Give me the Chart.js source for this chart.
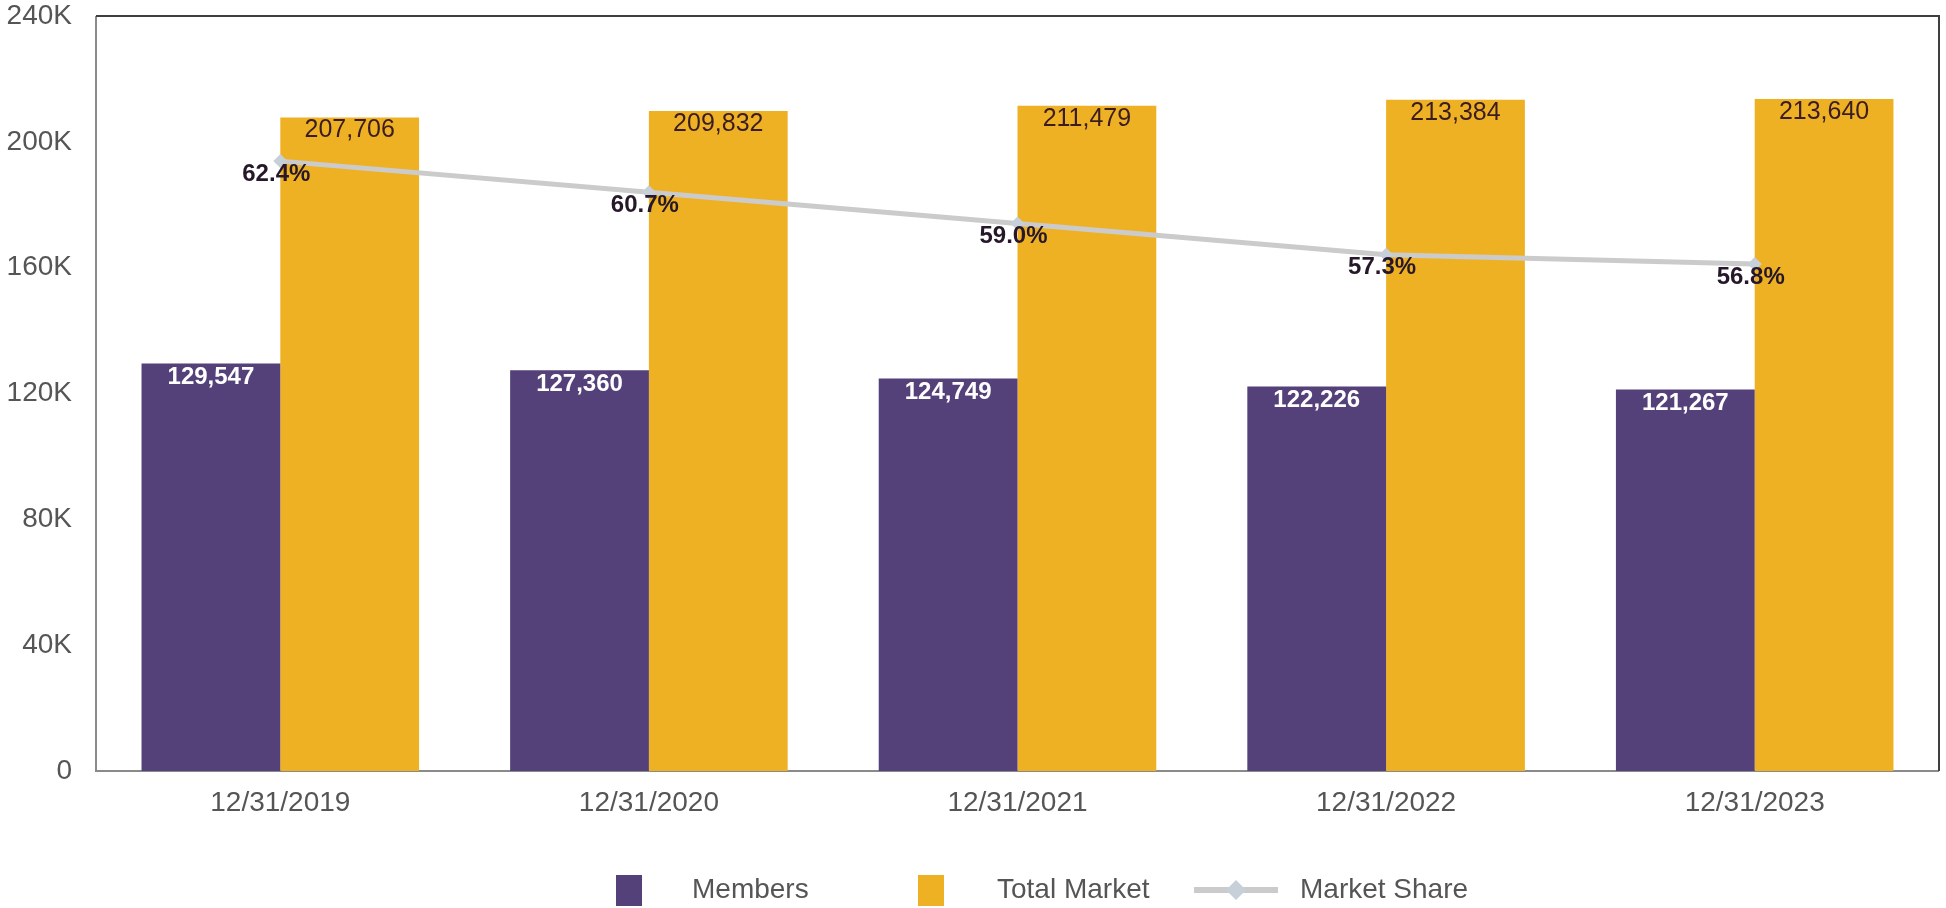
<!DOCTYPE html>
<html>
<head>
<meta charset="utf-8">
<title>Members vs Total Market</title>
<script src="https://cdn.jsdelivr.net/npm/chart.js@4.4.1/dist/chart.umd.min.js"></script>
<style>
  html, body { margin: 0; padding: 0; background: #fff; }
  canvas { display: block; }
</style>
</head>
<body>
<canvas id="marketChart" width="1946" height="908"></canvas>
<script>
const categories = ['12/31/2019', '12/31/2020', '12/31/2021', '12/31/2022', '12/31/2023'];
const members = [129547, 127360, 124749, 122226, 121267];
const totalMarket = [207706, 209832, 211479, 213384, 213640];
const marketShare = [62.4, 60.7, 59.0, 57.3, 56.8];
const yTicks = [0, 40000, 80000, 120000, 160000, 200000, 240000];

const FONT = '"Liberation Sans", Arial, sans-serif';
const PURPLE = '#55417a';
const GOLD = '#efb124';
const GREY_LINE = '#cbcbcb';

const fmt = n => n.toLocaleString('en-US');

// value labels drawn inside the top of each bar and under each line point
const valueLabels = {
  id: 'valueLabels',
  afterDatasetsDraw(chart) {
    const ctx = chart.ctx;
    ctx.save();
    ctx.textAlign = 'center';
    ctx.textBaseline = 'middle';
    chart.data.datasets.forEach((ds, i) => {
      const meta = chart.getDatasetMeta(i);
      const lbl = ds.valueLabel;
      if (!lbl) return;
      ctx.font = lbl.font;
      ctx.fillStyle = lbl.color;
      meta.data.forEach((el, j) => {
        ctx.fillText(lbl.format(ds.data[j]), el.x + (lbl.dx || 0), el.y + lbl.dy);
      });
    });
    ctx.restore();
  }
};

// plot frame
const plotFrame = {
  id: 'plotFrame',
  beforeDatasetsDraw(chart) {
    const { ctx, chartArea: a } = chart;
    ctx.save();
    ctx.lineWidth = 2;
    ctx.strokeStyle = '#8a8a8a';
    ctx.beginPath();
    ctx.moveTo(a.left, a.top);
    ctx.lineTo(a.left, a.bottom);
    ctx.lineTo(a.right, a.bottom);
    ctx.stroke();
    ctx.strokeStyle = '#3f3f3f';
    ctx.beginPath();
    ctx.moveTo(a.left, a.top);
    ctx.lineTo(a.right, a.top);
    ctx.lineTo(a.right, a.bottom);
    ctx.stroke();
    ctx.restore();
  }
};

// legend along the bottom
const bottomLegend = {
  id: 'bottomLegend',
  afterDraw(chart) {
    const ctx = chart.ctx;
    const cx = chart.width / 2;
    const y = 890;
    const items = [
      { ds: 0, kind: 'box', x: cx - 357, textX: cx - 281 },
      { ds: 1, kind: 'box', x: cx - 55, textX: cx + 24 },
      { ds: 2, kind: 'line', x: cx + 221, textX: cx + 327 }
    ];
    ctx.save();
    ctx.textBaseline = 'middle';
    ctx.textAlign = 'left';
    ctx.font = '28px ' + FONT;
    items.forEach(it => {
      const ds = chart.data.datasets[it.ds];
      if (it.kind === 'box') {
        ctx.fillStyle = ds.backgroundColor;
        ctx.fillRect(it.x, y - 15, 26, 31);
      } else {
        ctx.strokeStyle = ds.borderColor;
        ctx.lineWidth = 6;
        ctx.beginPath();
        ctx.moveTo(it.x, y);
        ctx.lineTo(it.x + 84, y);
        ctx.stroke();
        ctx.fillStyle = ds.pointBackgroundColor;
        const m = it.x + 42;
        ctx.beginPath();
        ctx.moveTo(m, y - 10);
        ctx.lineTo(m + 10, y);
        ctx.lineTo(m, y + 10);
        ctx.lineTo(m - 10, y);
        ctx.closePath();
        ctx.fill();
      }
      ctx.fillStyle = '#555555';
      ctx.fillText(ds.label, it.textX, y);
    });
    ctx.restore();
  }
};

new Chart(document.getElementById('marketChart'), {
  type: 'bar',
  data: {
    labels: categories,
    datasets: [
      {
        label: 'Members',
        data: members,
        backgroundColor: PURPLE,
        order: 1,
        yAxisID: 'y',
        valueLabel: { font: 'bold 24px ' + FONT, color: '#ffffff', dy: 14, format: fmt }
      },
      {
        label: 'Total Market',
        data: totalMarket,
        backgroundColor: GOLD,
        order: 2,
        yAxisID: 'y',
        valueLabel: { font: '25px ' + FONT, color: '#3a1c22', dy: 13, format: fmt }
      },
      {
        type: 'line',
        label: 'Market Share',
        data: marketShare,
        borderColor: GREY_LINE,
        borderWidth: 5,
        pointStyle: 'rectRot',
        pointRadius: 7,
        pointBackgroundColor: '#c7d0d8',
        pointBorderWidth: 0,
        tension: 0,
        order: 0,
        yAxisID: 'y1',
        valueLabel: { font: 'bold 24px ' + FONT, color: '#26182a', dx: -4, dy: 13, format: v => v.toFixed(1) + '%' }
      }
    ]
  },
  options: {
    responsive: false,
    animation: false,
    layout: { padding: { top: 16, right: 3, left: 0, bottom: 0 } },
    datasets: {
      bar: { categoryPercentage: 0.753, barPercentage: 1.0, borderWidth: 0 }
    },
    plugins: {
      legend: { display: false },
      tooltip: { enabled: false }
    },
    scales: {
      x: {
        grid: { display: false, drawTicks: false },
        border: { display: false },
        ticks: { color: '#555555', font: { family: FONT, size: 28 }, padding: 15 },
        afterFit: s => { s.height = 137; s.paddingLeft = 0; s.paddingRight = 0; }
      },
      y: {
        min: 0,
        max: 240000,
        grid: { display: false, drawTicks: false },
        border: { display: false },
        afterBuildTicks: s => { s.ticks = yTicks.map(v => ({ value: v })); },
        ticks: {
          color: '#555555',
          font: { family: FONT, size: 28 },
          padding: 24,
          callback: v => v === 0 ? '0' : (v / 1000) + 'K'
        },
        afterFit: s => { s.width = 96; s.paddingTop = 0; s.paddingBottom = 0; }
      },
      y1: {
        display: false,
        min: 29.2,
        max: 70.3
      }
    }
  },
  plugins: [plotFrame, valueLabels, bottomLegend]
});
</script>
</body>
</html>
